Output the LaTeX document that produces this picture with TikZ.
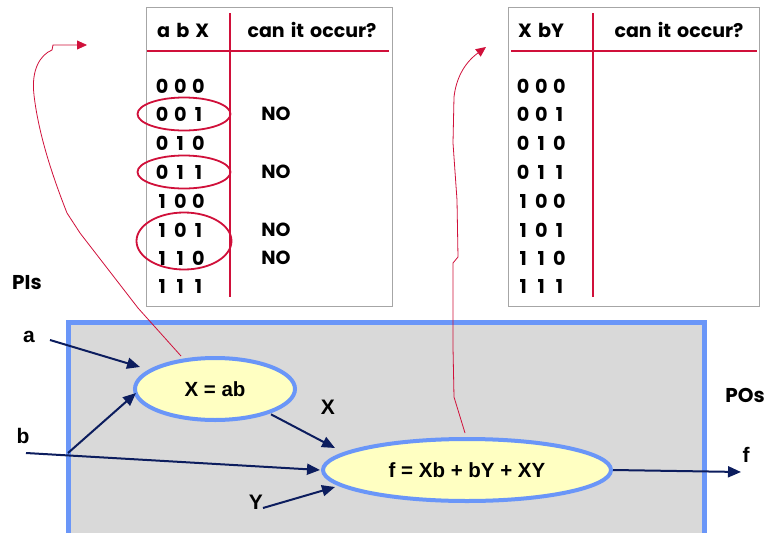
\documentclass[tikz,border=0pt]{standalone}
\usepackage{fontspec}
\setmainfont{Liberation Sans}
\newfontfamily\tabfont{Poppins}
\newfontfamily\bitfont{Poppins}[WordSpace=1.5]
\usetikzlibrary{arrows.meta,shapes.geometric}
\definecolor{boxblue}{HTML}{6A96F8}
\definecolor{boxgray}{HTML}{D9D9D9}
\definecolor{nodefill}{HTML}{FFFFC2}
\definecolor{navy}{HTML}{0C1D5E}
\definecolor{markred}{HTML}{D0103A}
\definecolor{framegray}{HTML}{A6A6A6}
% three bits set in equal-width cells so the columns line up
\newcommand\bitrow[3]{\makebox[12pt]{#1} \makebox[12pt]{#2} \makebox[12pt]{#3}}
\begin{document}
\begin{tikzpicture}[x=1pt,y=-1pt,
  tabtext/.style={font=\tabfont\bfseries\fontsize{19}{21}\selectfont, inner sep=0pt, anchor=center},
  bits/.style={font=\bitfont\bfseries\fontsize{19.2}{21}\selectfont, inner sep=0pt, anchor=west},
  lbl/.style={font=\bfseries\fontsize{21}{23}\selectfont, inner sep=0pt},
  gilllbl/.style={font=\tabfont\bfseries\fontsize{20}{22}\selectfont, inner sep=0pt},
  func/.style={ellipse, draw=boxblue, line width=4pt, fill=nodefill,
    font=\bfseries\fontsize{20.5}{22}\selectfont, inner sep=0pt},
  sig/.style={draw=navy, line width=2pt, -{Triangle[length=13pt,width=11pt]}},
  ruleline/.style={draw=markred, line width=2.2pt},
  ring/.style={draw=markred, line width=1.8pt, ellipse},
  link/.style={draw=markred, line width=0.8pt, -{Triangle[length=10pt,width=9pt]}}]
\useasboundingbox (0,0) rectangle (769,533);

% circuit box
\draw[draw=boxblue, fill=boxgray, line width=5pt] (68,322) rectangle (704,537);

% ---- left table ----
\draw[draw=framegray, line width=1pt] (146,7) rectangle (392,306);
\draw[ruleline] (147,51) -- (389,51);
\draw[ruleline] (230,13) -- (230,297);
\node[bits] (lh1) at (157,30) {a b X};
\node[tabtext] (lh2) at (312,30) {can it occur?};
\foreach \r/\p/\q/\s [count=\i] in {86/0/0/0,114/0/0/1,143/0/1/0,172/0/1/1,201/1/0/0,230/1/0/1,258/1/1/0,286/1/1/1}
  \node[bits] (la\i) at (156,\r) {\bitrow{\p}{\q}{\s}};
\node[tabtext] (no1) at (276,114) {NO};
\node[tabtext] (no2) at (276,172) {NO};
\node[tabtext] (no3) at (276,230) {NO};
\node[tabtext] (no4) at (276,258) {NO};
\node[ring, minimum width=93pt, minimum height=33pt] (r1) at (184,114) {};
\node[ring, minimum width=93pt, minimum height=33pt] (r2) at (184,172) {};
\node[ring, minimum width=95pt, minimum height=57pt] (r3) at (184,241) {};

% ---- right table ----
\draw[draw=framegray, line width=1pt] (508,7) rectangle (759,306);
\draw[ruleline] (511,51) -- (757,51);
\draw[ruleline] (593,13) -- (593,297);
\node[bits] (rh1) at (518,30) {X bY};
\node[tabtext] (rh2) at (679,30) {can it occur?};
\foreach \r/\p/\q/\s [count=\i] in {86/0/0/0,114/0/0/1,143/0/1/0,172/0/1/1,201/1/0/0,230/1/0/1,258/1/1/0,286/1/1/1}
  \node[bits] (ra\i) at (517,\r) {\bitrow{\p}{\q}{\s}};

% ---- functions ----
\node[func, minimum width=160pt, minimum height=62pt] (gx) at (215,389) {X = ab};
\node[func, minimum width=288pt, minimum height=62pt] (gf) at (467,470) {f = Xb + bY + XY};

% labels
\node[gilllbl] (pis) at (27,283) {PIs};
\node[gilllbl] (pos) at (745,395) {POs};
\node[lbl] (la) at (29,337) {a};
\node[lbl] (lb) at (23,436) {b};
\node[lbl] (lx) at (328,407) {X};
\node[lbl] (ly) at (256,502) {Y};
\node[lbl] (lf) at (746,455) {f};

% signal wires
\coordinate (ain) at (50,340);
\coordinate (bin) at (26,453);
\coordinate (bsplit) at (68,453);
\coordinate (yin) at (263,508);
\coordinate (fout) at (741,472);
\draw[sig] (ain) -- (140,367);
\draw[sig] (bsplit) -- (136,393);
\draw[sig] (bin) -- (320,470);
\draw[sig] (gx.south east) ++(-2,2) -- (335,448);
\draw[sig] (yin) -- (335,487);
\draw[sig] (gf.east) -- (fout);

% links from each function to its table
\coordinate (ltip) at (87,45);
\coordinate (rtip) at (486,47);
\draw[link] (181,356) -- (138,308) -- (80,233) -- (67,213)
  .. controls (50,170) and (38,130) .. (34,95)
  .. controls (31,70) and (40,55) .. (52,50)
  -- (53,45) -- (ltip);
\draw[link] (465,433) -- (454,397) -- (453,347) -- (453,263) -- (458,257)
  -- (457,200) -- (453,143) -- (454,97)
  .. controls (456,80) and (463,64) .. (rtip);
\end{tikzpicture}
\end{document}
